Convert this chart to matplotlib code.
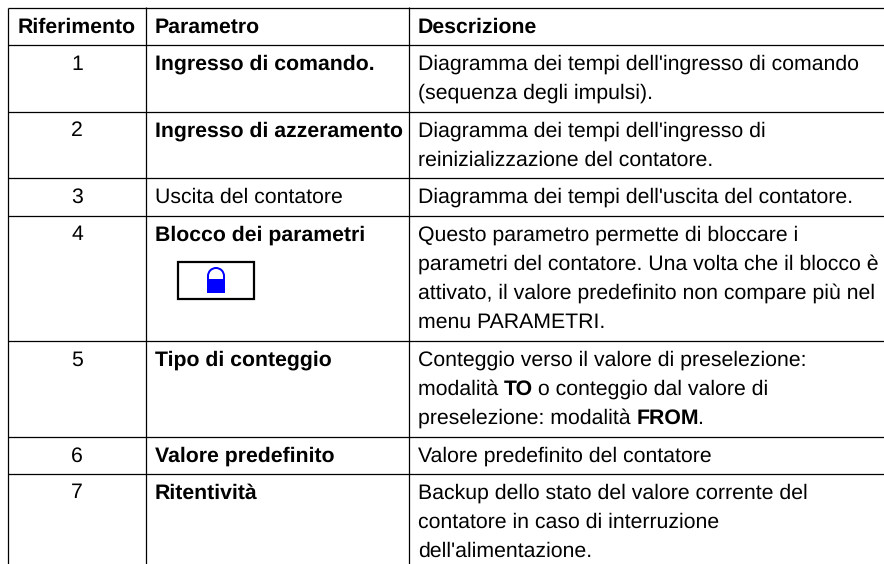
import matplotlib
matplotlib.use('Agg')
import matplotlib.pyplot as plt
from matplotlib.patches import Rectangle, Wedge

W, H = 884, 564

col_x = [8, 146, 409]
row_y = [8, 45, 112, 178, 216, 341, 437, 474]

riferimenti = ['1', '2', '3', '4', '5', '6', '7']
parametri = ['Ingresso di comando.', 'Ingresso di azzeramento', 'Uscita del contatore',
             'Blocco dei parametri', 'Tipo di conteggio', 'Valore predefinito', 'Ritentività']
parametri_bold = [True, True, False, True, True, True, True]
# ogni riga: lista di (testo, grassetto)
descrizioni = [
    [[("Diagramma dei tempi dell'ingresso di comando", False)], [("(sequenza degli impulsi).", False)]],
    [[("Diagramma dei tempi dell'ingresso di", False)], [("reinizializzazione del contatore.", False)]],
    [[("Diagramma dei tempi dell'uscita del contatore.", False)]],
    [[("Questo parametro permette di bloccare i", False)],
     [("parametri del contatore. Una volta che il blocco è", False)],
     [("attivato, il valore predefinito non compare più nel", False)],
     [("menu PARAMETRI.", False)]],
    [[("Conteggio verso il valore di preselezione:", False)],
     [("modalità ", False), ("TO", True), (" o conteggio dal valore di", False)],
     [("preselezione: modalità ", False), ("FROM", True), (".", False)]],
    [[("Valore predefinito del contatore", False)]],
    [[("Backup dello stato del valore corrente del", False)],
     [("contatore in caso di interruzione", False)],
     [("dell'alimentazione.", False)]],
]
intestazioni = ['Riferimento', 'Parametro', 'Descrizione']

plt.rcParams['font.family'] = ['Liberation Sans', 'DejaVu Sans']
plt.rcParams['text.hinting'] = 'none'

FS = 15.27
LINE_H = 29

fig = plt.figure(figsize=(W / 100, H / 100), dpi=100)
ax = fig.add_axes([0, 0, 1, 1])
ax.set_xlim(0, W)
ax.set_ylim(H, 0)
ax.axis('off')

for y in row_y:
    ax.plot([col_x[0], W], [y, y], color='black', lw=0.9, solid_capstyle='butt')
ax.plot([col_x[0], col_x[0]], [row_y[0], H], color='black', lw=0.9, solid_capstyle='butt')
for x in col_x[1:]:
    ax.plot([x, x], [row_y[0] - 1, H], color='black', lw=0.9, solid_capstyle='butt')

# intestazione
ty = 33
ax.text((col_x[0] + col_x[1]) / 2, ty, intestazioni[0], ha='center', va='baseline', fontsize=FS, fontweight='bold')
ax.text(col_x[1] + 9, ty, intestazioni[1], ha='left', va='baseline', fontsize=FS, fontweight='bold')
ax.text(col_x[2] + 9, ty, intestazioni[2], ha='left', va='baseline', fontsize=FS, fontweight='bold')

fig.canvas.draw()
renderer = fig.canvas.get_renderer()

for i in range(7):
    base = row_y[i + 1] + 24.5
    ax.text((col_x[0] + col_x[1]) / 2, base, riferimenti[i], ha='center', va='baseline', fontsize=FS)
    ax.text(col_x[1] + 9, base, parametri[i], ha='left', va='baseline', fontsize=FS,
            fontweight='bold' if parametri_bold[i] else 'normal')
    for j, riga in enumerate(descrizioni[i]):
        x = col_x[2] + 9
        for testo, grassetto in riga:
            t = ax.text(x, base + j * LINE_H, testo, ha='left', va='baseline', fontsize=FS,
                        fontweight='bold' if grassetto else 'normal')
            x += t.get_window_extent(renderer).width - (1.5 if grassetto else 0)

# icona lucchetto
ax.add_patch(Rectangle((178, 262), 76, 37, fill=False, edgecolor='black', lw=1.6))
ax.add_patch(Rectangle((207, 279), 18, 14, facecolor='#0000ff', edgecolor='none'))
ax.add_patch(Wedge((216, 276), 9, 180, 360, width=2, facecolor='#0000ff', edgecolor='none'))
ax.add_patch(Rectangle((207, 276), 2, 3, facecolor='#0000ff', edgecolor='none'))
ax.add_patch(Rectangle((223, 276), 2, 3, facecolor='#0000ff', edgecolor='none'))

fig.savefig('out.png', dpi=100)
